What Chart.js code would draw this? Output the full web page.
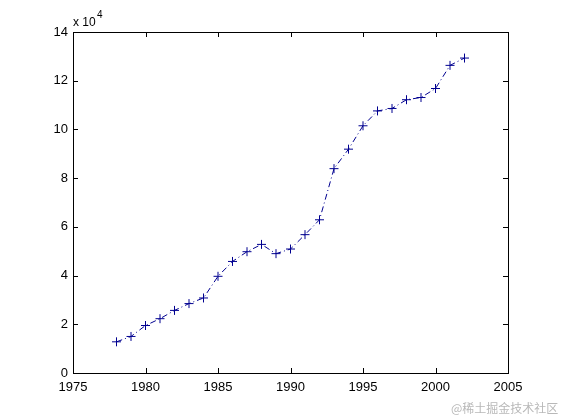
<!DOCTYPE html>
<html>
<head>
<meta charset="utf-8">
<script src="https://cdn.jsdelivr.net/npm/chart.js@4/dist/chart.umd.min.js"></script>
<style>
  html, body { margin: 0; padding: 0; background: #fff; }
  #wrap { position: relative; width: 561px; height: 420px; }
  #mark { position: absolute; left: 451px; top: 399px; font: 12px "Noto Sans CJK SC", sans-serif; color: #b8b8b8; white-space: nowrap; }
</style>
</head>
<body>
<div id="wrap">
  <canvas id="grafico" width="561" height="420"></canvas>
  <div id="mark">@稀土掘金技术社区</div>
</div>
<script>
const years = [1978, 1979, 1980, 1981, 1982, 1983, 1984, 1985, 1986, 1987, 1988, 1989, 1990,
  1991, 1992, 1993, 1994, 1995, 1996, 1997, 1998, 1999, 2000, 2001, 2002];
const values = [12800, 15000, 19500, 22300, 25700, 28500, 30800, 39700, 45800, 49800, 52800, 49000, 50900,
  56800, 62900, 83900, 91900, 101500, 107600, 108600, 112200, 113100, 116800, 126300, 129300];
const xTicks = [1975, 1980, 1985, 1990, 1995, 2000, 2005];
const yTicks = [0, 2, 4, 6, 8, 10, 12, 14];

const ctx = document.getElementById('grafico');

// box and inward ticks, matlab style
const boxPlugin = {
  id: 'box',
  afterDraw(chart) {
    const c = chart.ctx;
    const a = chart.chartArea;
    const sx = chart.scales.x, sy = chart.scales.y;
    c.save();
    c.strokeStyle = '#000';
    c.lineWidth = 1;
    c.strokeRect(Math.round(a.left) + 0.5, Math.round(a.top) + 0.5,
      Math.round(a.right - a.left), Math.round(a.bottom - a.top));
    c.beginPath();
    xTicks.forEach(t => {
      const px = Math.round(sx.getPixelForValue(t)) + 0.5;
      c.moveTo(px, a.bottom); c.lineTo(px, a.bottom - 5);
      c.moveTo(px, a.top); c.lineTo(px, a.top + 5);
    });
    yTicks.forEach(t => {
      const py = Math.round(sy.getPixelForValue(t * 10000)) + 0.5;
      c.moveTo(a.left, py); c.lineTo(a.left + 5, py);
      c.moveTo(a.right, py); c.lineTo(a.right - 5, py);
    });
    c.stroke();
    c.fillStyle = '#000';
    c.textBaseline = 'alphabetic';
    c.font = '12px "Liberation Sans", Arial, sans-serif';
    c.fillText('x 10', a.left, a.top - 6);
    c.font = '10px "Liberation Sans", Arial, sans-serif';
    c.fillText('4', a.left + 24, a.top - 14);
    c.restore();
  }
};

new Chart(ctx, {
  type: 'line',
  data: {
    datasets: [{
      data: years.map((y, i) => ({ x: y, y: values[i] })),
      borderColor: '#000090',
      borderWidth: 1,
      borderDash: [6, 3, 1, 3],
      tension: 0,
      pointStyle: 'cross',
      pointRadius: 4.5,
      pointBorderColor: '#000090',
      pointBorderWidth: 1,
      fill: false
    }]
  },
  options: {
    responsive: false,
    animation: false,
    layout: { padding: { top: 32, right: 53, left: 0, bottom: 0 } },
    plugins: { legend: { display: false }, tooltip: { enabled: false } },
    scales: {
      x: {
        type: 'linear',
        min: 1975,
        max: 2005,
        afterBuildTicks: s => { s.ticks = xTicks.map(v => ({ value: v })); },
        afterFit: s => { s.height = 47; },
        grid: { display: false, drawTicks: false },
        border: { display: false },
        ticks: {
          color: '#000',
          padding: 7,
          maxRotation: 0,
          font: { family: '"Liberation Sans", Arial, sans-serif', size: 13 },
          callback: v => String(v)
        }
      },
      y: {
        min: 0,
        max: 140000,
        afterBuildTicks: s => { s.ticks = yTicks.map(v => ({ value: v * 10000 })); },
        afterFit: s => { s.width = 73; },
        grid: { display: false, drawTicks: false },
        border: { display: false },
        ticks: {
          color: '#000',
          padding: 5,
          font: { family: '"Liberation Sans", Arial, sans-serif', size: 13 },
          callback: v => String(v / 10000)
        }
      }
    }
  },
  plugins: [boxPlugin]
});
</script>
</body>
</html>
